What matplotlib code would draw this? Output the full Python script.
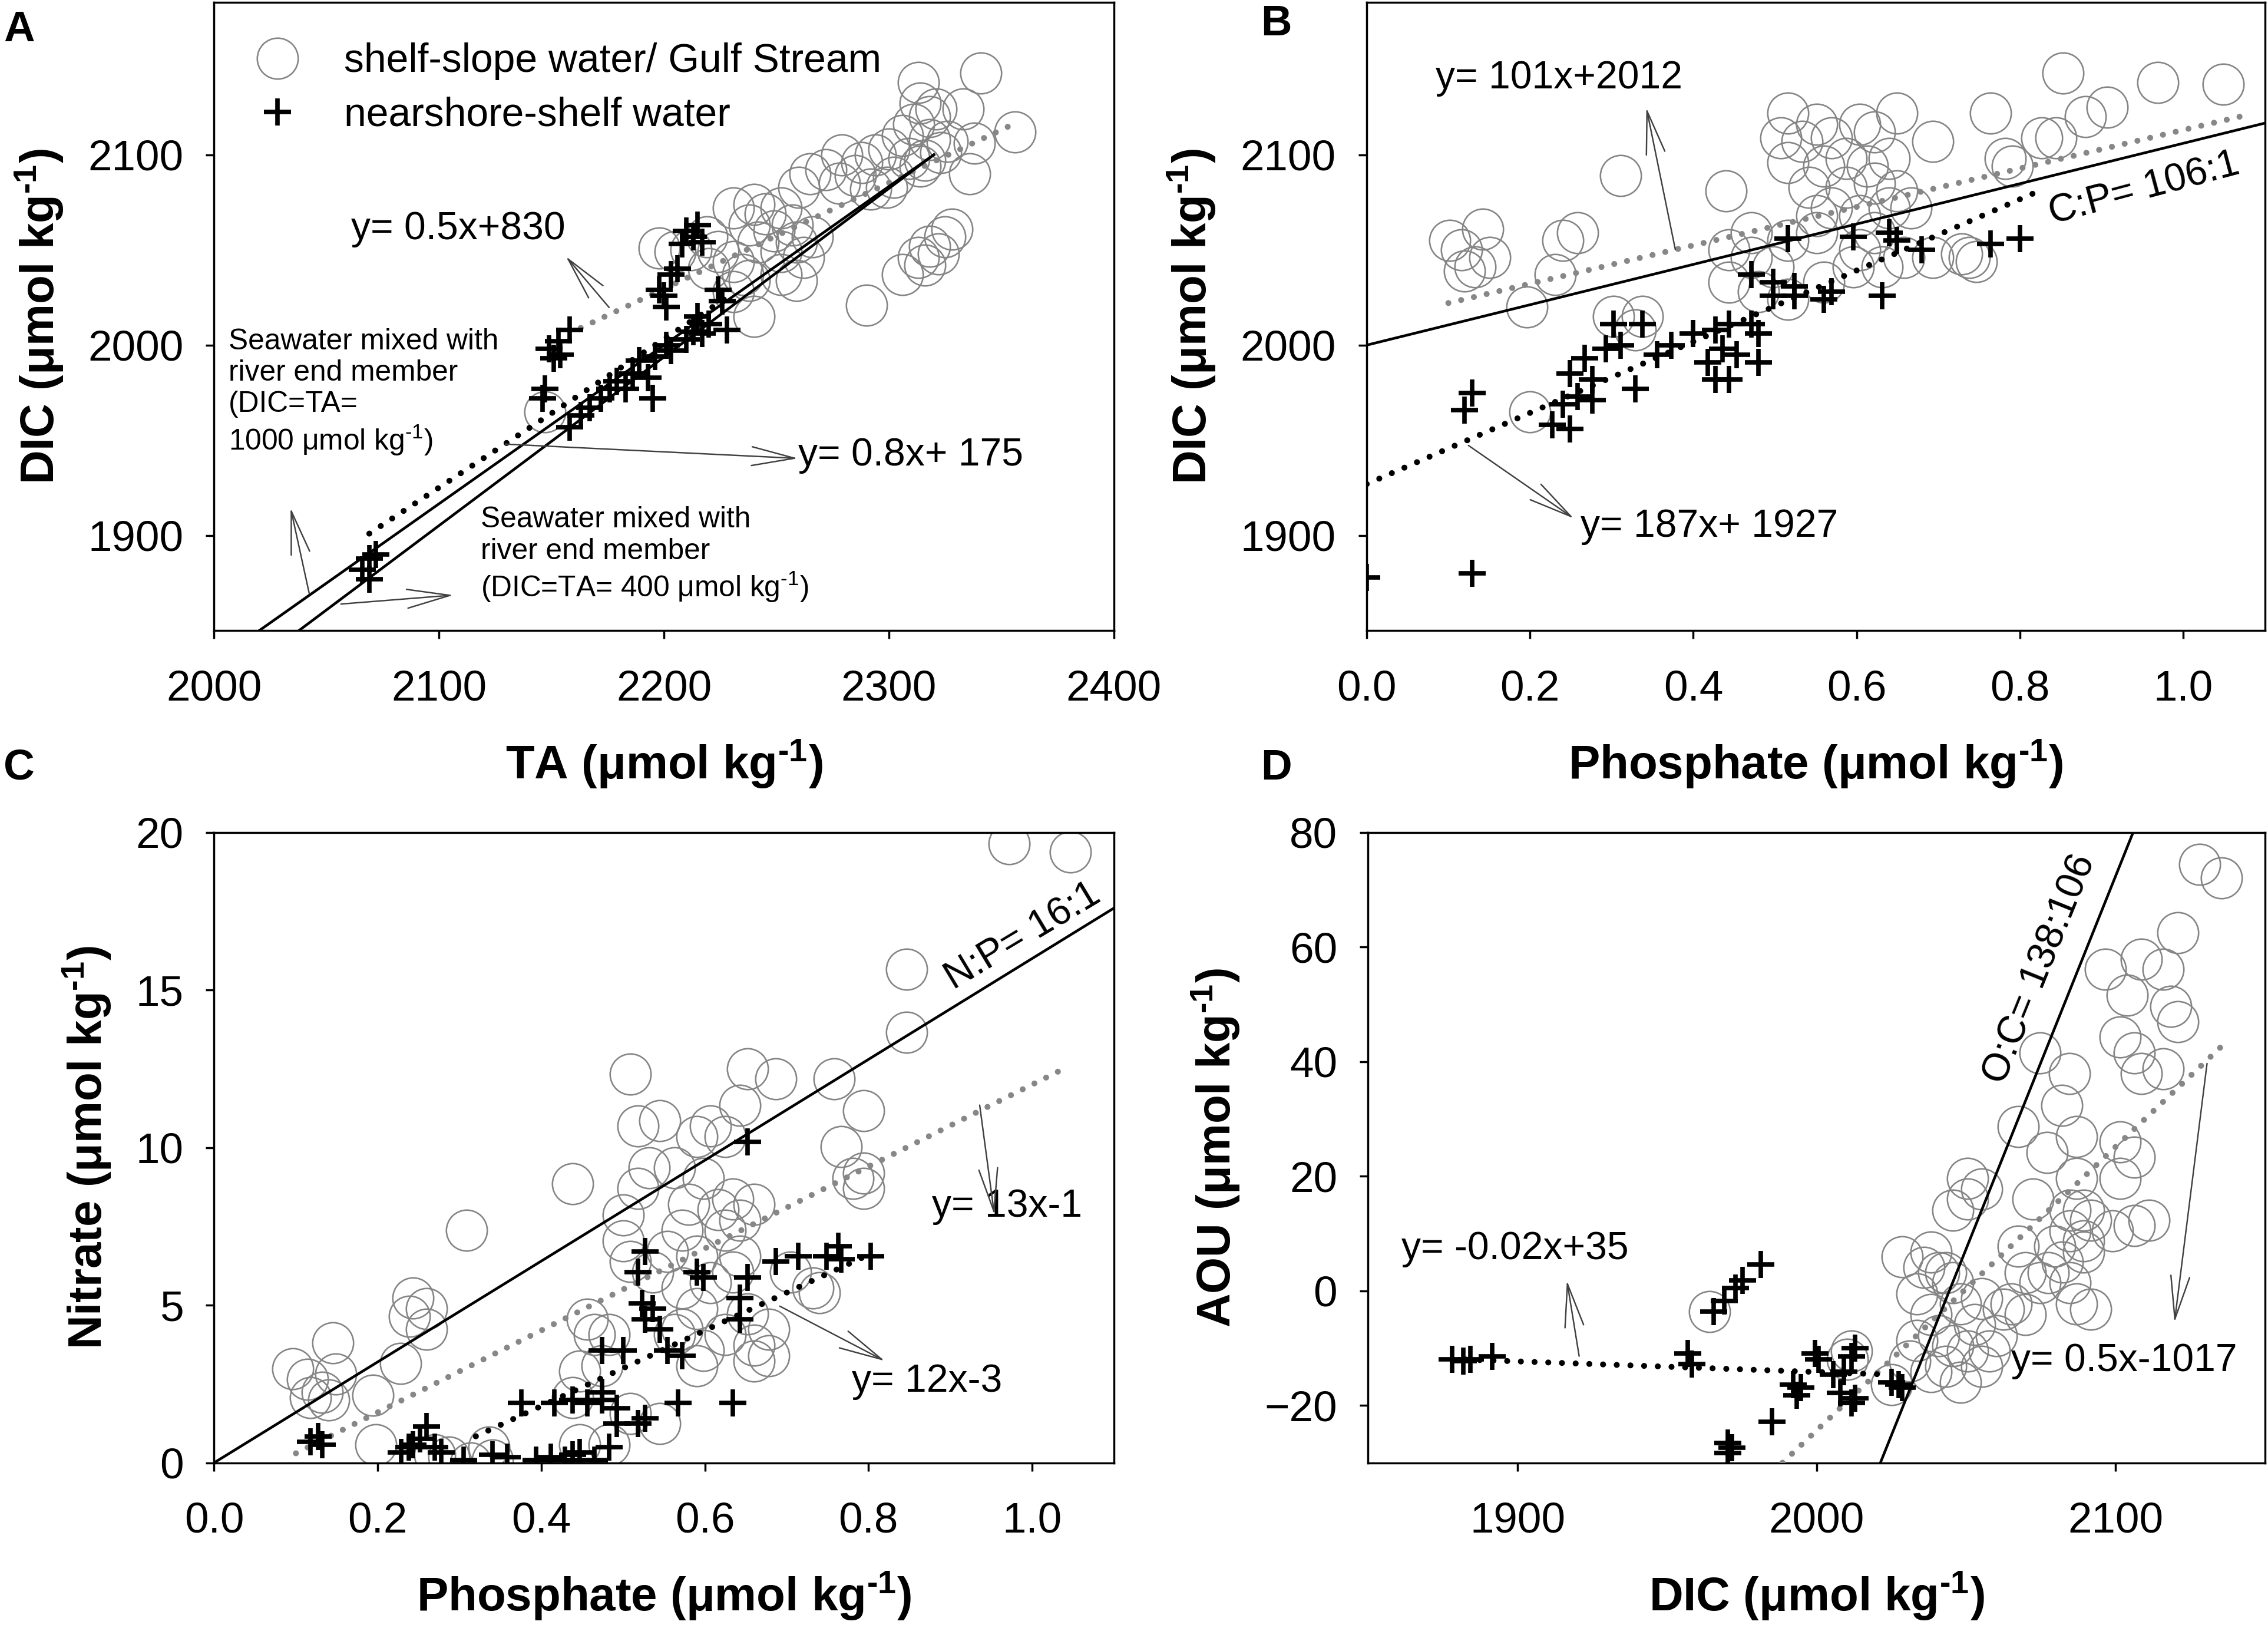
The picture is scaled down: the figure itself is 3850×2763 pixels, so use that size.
import matplotlib
matplotlib.use('Agg')
import numpy as np
import matplotlib.pyplot as plt
from matplotlib import font_manager
from matplotlib.ticker import FormatStrFormatter

avail = {f.name for f in font_manager.fontManager.ttflist}
FONT = 'Liberation Sans' if 'Liberation Sans' in avail else 'DejaVu Sans'
plt.rcParams['font.family'] = [FONT, 'DejaVu Sans']
plt.rcParams['mathtext.default'] = 'regular'

# ---------------- Panel A: DIC vs TA ----------------
a_shelf_ta = [2313, 2341, 2314, 2321, 2333, 2356, 2338, 2336, 2318, 2311, 2306, 2300, 2294, 2288,
              2309, 2316, 2323, 2326, 2318, 2314, 2302, 2279, 2272, 2265, 2260, 2278, 2285, 2292,
              2299, 2240, 2245, 2252, 2257, 2238, 2249, 2259, 2266, 2252, 2262, 2252, 2259, 2231,
              2242, 2198, 2205, 2212, 2219, 2224, 2231, 2220, 2235, 2231, 2240, 2238, 2147, 2290,
              2306, 2313, 2318, 2325, 2328, 2316, 2322]
a_shelf_dic = [2138, 2143, 2127, 2124, 2124, 2112, 2106, 2090, 2108, 2116, 2110, 2103, 2100, 2096,
               2098, 2097, 2101, 2107, 2120, 2094, 2088, 2100, 2092, 2090, 2083, 2085, 2089, 2082,
               2083, 2074, 2069, 2072, 2063, 2063, 2060, 2054, 2057, 2049, 2046, 2037, 2034, 2072,
               2054, 2051, 2049, 2050, 2057, 2049, 2044, 2040, 2037, 2028, 2015, 2034, 1965, 2021,
               2037, 2046, 2052, 2057, 2061, 2042, 2048]
a_near_ta = [2210, 2215, 2217, 2208, 2213, 2206, 2203, 2200, 2198, 2201, 2224, 2226, 2215, 2220,
             2228, 2213, 2210, 2217, 2203, 2196, 2201, 2189, 2186, 2193, 2179, 2183, 2176, 2195,
             2172, 2167, 2163, 2158, 2153, 2149, 2154, 2151, 2158, 2147, 2146, 2069, 2072, 2066, 2069]
a_near_dic = [2060, 2063, 2054, 2053, 2057, 2040, 2037, 2026, 2029, 2020, 2029, 2023, 2015, 2011,
              2008, 2007, 2003, 2006, 1997, 1994, 2000, 1992, 1985, 1983, 1981, 1977, 1977, 1972,
              1972, 1967, 1963, 1957, 2002, 1998, 1995, 1993, 2008, 1977, 1972, 1888, 1890, 1882, 1877]
# fitted lines (end points) and conservative mixing lines
a_fit_shelf_x = [2163, 2357]
a_fit_shelf_y = [2009, 2117]
a_fit_near_x = [2069, 2228]
a_fit_near_y = [1901, 2025]
seawater_end = (2320, 2100)
river_end_1000 = (1000, 1000)
river_end_400 = (400, 400)

# ---------------- Panel B: DIC vs phosphate ----------------
b_shelf_p = [.102, .116, .142, .133, .151, .12, .196, .231, .24, .258, .311, .44,
             .516, .551, .533, .569, .604, .649, .622, .587, .613, .64, .56, .542, .587, .622,
             .649, .693, .507, .516, .569, .551, .604, .64, .667, .471, .444, .471, .516, .551,
             .498, .444, .48, .516, .56, .596, .631, .658, .604, .693, .738, .622,
             .764, .844, .88, .907, .853, .969, 1.049, .791, .782, .827, .729, .747,
             .302, .338, .2, .329]
b_shelf_dic = [2055, 2050, 2061, 2041, 2046, 2039, 2020, 2037, 2055, 2059, 2089, 2081,
               2122, 2116, 2107, 2109, 2116, 2122, 2112, 2098, 2094, 2098, 2094, 2083, 2083, 2085,
               2081, 2107, 2109, 2096, 2072, 2068, 2068, 2072, 2072, 2059, 2050, 2046, 2055, 2059,
               2041, 2033, 2028, 2024, 2033, 2041, 2041, 2046, 2050, 2046, 2046, 2059,
               2122, 2109, 2120, 2125, 2143, 2138, 2137, 2094, 2098, 2109, 2048, 2044,
               2015, 2015, 1965, 2008]
b_near_p = [0, .129, .129, .12, .227, .249, .24, .258, .276, .249, .276, .267, .293, .311, .302,
            .338, .329, .356, .373, .4, .427, .418, .427, .444, .436, .453, .444, .471, .48, .48,
            .471, .498, .498, .524, .524, .56, .569, .516, .596, .64, .649, .631, .68, .764, .8]
b_near_dic = [1878, 1880, 1975, 1966, 1958, 1956, 1969, 1973, 1971, 1985, 1982, 1993, 1998, 2000,
              2011, 2011, 1977, 1995, 2000, 2006, 2008, 1991, 1982, 1982, 1998, 1995, 2011, 2011,
              1991, 2006, 2037, 2033, 2026, 2031, 2026, 2024, 2028, 2056, 2057, 2059, 2055, 2026,
              2050, 2053, 2056]
b_fit_shelf = (101, 2012, 0.10, 1.075)   # slope, intercept, x from, x to
b_fit_near = (187, 1927, 0.0, 0.82)
b_redfield = (106, 2000, 0.0, 1.1)

# ---------------- Panel C: nitrate vs phosphate ----------------
c_shelf_p = [.096, .114, .132, .118, .145, .149, .14, .194, .198, .228, .243, .239, .26, .26,
             .309, .438, .287, .314, .34, .336, .27, .438, .447, .465, .483, .456, .474, .447,
             .483, .545, .509, .509, .518, .545, .532, .5, .518, .563, .59, .607, .625, .598,
             .58, .572, .554, .536, .509, .5, .616, .634, .643, .625, .66, .652, .687, .643,
             .643, .59, .572, .59, .572, .598, .625, .652, .66, .678, .66, .678, .607, .634,
             .563, .59, .758, .794, .767, .794, .794, .781, .847, .847, .972, 1.047, .732, .74, .705]
c_shelf_n = [2.98, 2.65, 2.24, 2.07, 3.81, 2.82, 1.99, 2.15, .58, 3.15, 5.22, 4.64, 4.89, 4.23,
             7.37, 8.86, .17, 0, .08, .5, .25, 2.07, 2.9, 4.06, 4.06, 4.56, 3.07, .58,
             .58, 1.24, 1.57, 12.34, 10.69, 10.85, 9.36, 7.87, 8.7, 9.36, 10.36, 10.69, 10.36, 9.03,
             8.2, 7.37, 6.71, 6.05, 6.38, 7.04, 8.04, 8.37, 7.7, 7.37, 8.2, 12.51, 12.18, 11.35,
             6.55, 6.55, 5.55, 4.89, 4.23, 3.56, 4.06, 4.72, 3.73, 4.23, 3.23, 3.4, 5.72, 6.05,
             4.06, 3.07, 12.18, 11.18, 10.03, 9.2, 8.7, 9.03, 15.66, 13.67, 19.64, 19.39, 5.55, 5.39, 6.05]
c_near_p = [.118, .132, .127, .229, .243, .252, .26, .27, .278, .238, .305, .358, .34,
            .394, .412, .429, .438, .447, .465, .483, .376, .416, .438, .456, .474, .492, .474,
            .492, .518, .527, .474, .5, .567, .634, .518, .523, .527, .536, .545, .527, .554,
            .572, .598, .59, .643, .643, .652, .652, .687, .714, .749, .763, .767, .803]
c_near_n = [.66, .58, .83, .33, .58, .75, 1.16, .5, .33, .5, .08, .17, .25,
            .08, .17, .08, .25, .33, .08, .5, 1.9, 1.9, 1.99, 1.9, 1.99, 1.74, 2.24,
            1.24, 1.24, 1.41, 3.56, 3.56, 1.9, 1.9, 6.05, 5.05, 4.56, 4.89, 4.23, 6.71, 3.56,
            3.4, 5.88, 6.05, 5.22, 4.56, 5.88, 10.19, 6.38, 6.55, 6.55, 6.88, 6.46, 6.55]
c_fit_shelf = (13, -1, 0.10, 1.045)
c_fit_near = (12, -3, 0.32, 0.80)
c_redfield = (16, 0, 0.0, 1.1)

# ---------------- Panel D: AOU vs DIC ----------------
d_shelf_dic = [1964.3, 2010.4, 2011.7, 2025, 2028.6, 2035.9, 2038.3, 2043.2, 2033.5, 2038.3, 2040.8,
               2033.5, 2031.1, 2045.6, 2043.2, 2050.5, 2052.9, 2048.1, 2055.3, 2048.1, 2038.3, 2057.8,
               2060.2, 2062.6, 2055.3, 2045.6, 2040.8, 2050.5, 2045.6, 2055.3, 2050.5, 2067.5, 2069.9,
               2074.8, 2065.1, 2069.9, 2077.2, 2067.5, 2074.8, 2084.5, 2082, 2086.9, 2072.3,
               2096.6, 2103.9, 2108.7, 2120.9, 2116, 2118.4, 2120.9, 2101.5, 2106.3, 2108.7, 2116,
               2128.2, 2135.4, 2101.5, 2106.3, 2087, 2089.3, 2091.7, 2101.5, 2084.7, 2082.3, 2077.4,
               2084.7, 2089.3, 2079.6, 2111.2, 2087, 2091.7, 2089.3, 2084.7, 2106.3, 2099]
d_shelf_aou = [-3.6, -11.9, -10.5, -16.4, 5.9, 4.1, 6.8, 3.2, -0.5, -4.1, -7.8,
               -8.7, -12.3, -9.6, -13.2, -10.5, -5.9, -2.3, -13.2, -16, -14.1, -10.5,
               -7.8, -3.2, -1.4, 1.4, 3.2, 16, 14.1, 17.8, 19.6, 7.8, 3.2,
               1.4, -2.3, -4.1, 24.2, 28.7, 41.5, 37.9, 32.4, 26.9, 16,
               56.1, 51.6, 57.9, 62.5, 56.1, 49.7, 47, 44.3, 41.5, 37.9, 38.8,
               74.4, 72.1, 26, 23.3, 19.6, 14.1, 12.3, 19.6, 10.5, 5, 3.2,
               1.4, 8.7, 7.8, 12.3, -2.3, -3.2, 6.8, 14.1, 11.4, 10.5]
d_near_dic = [1878.2, 1881.8, 1884.2, 1891.5, 1957, 1958.3, 1965.5, 1969.2, 1972.8, 1975.2, 1981.3,
              1970.4, 1971.6, 1970.4, 1985, 1992.2, 1993.4, 1994.7, 1999.5, 2000.7, 2005.6, 2008,
              2009.2, 2011.7, 2012.9, 2012.9, 2011.7, 2025, 2027.4, 2028.6]
d_near_aou = [-11.9, -12.3, -11.9, -11.4, -10.9, -12.8, -3.6, -1.8, 0.5, 1.8, 4.6,
              -26.5, -27.4, -28.3, -22.8, -16.4, -18.2, -16.9, -10.9, -11.9, -14.6, -17.8,
              -14.1, -11.4, -10, -18.7, -19.6, -16, -16.4, -16.9]
d_fit_shelf_x = [1988.6, 2136.7]
d_fit_shelf_y = [-30, 43.3]
d_fit_near_x = [1878.2, 2023.8]
d_fit_near_y = [-11.9, -14.6]
d_oc_ratio = 138 / 106
d_oc_dic0 = 2044.4          # DIC where the O:C line crosses AOU = 0
d_oc_range = (2000, 2120)

# ---------------- styling ----------------
CIRC = dict(ls='none', marker='o', ms=20, mfc='none', mec='#858585', mew=0.75, zorder=2)
PLUS = dict(ls='none', marker='+', ms=13, mec='black', mew=2.2, zorder=4)
GDOT = dict(color='#878787', lw=2.9, ls=(0, (0.01, 2.2)), dash_capstyle='round', zorder=3)
KDOT = dict(color='black', lw=2.9, ls=(0, (0.01, 2.3)), dash_capstyle='round', zorder=3)
SOLID = dict(color='black', lw=1.3, zorder=3)
TXT = 19
LAB = 23


def style(ax, xlim, ylim, xticks, yticks, xlabel, ylabel):
    ax.set_xlim(xlim)
    ax.set_ylim(ylim)
    ax.set_xticks(xticks)
    ax.set_yticks(yticks)
    ax.tick_params(direction='out', length=4, width=1.0, labelsize=21, top=False, right=False)
    ax.tick_params(axis='x', pad=15)
    ax.tick_params(axis='y', pad=11)
    for s in ax.spines.values():
        s.set_linewidth(1.0)
    ax.set_xlabel(xlabel, fontsize=LAB, fontweight='bold', labelpad=14)
    ax.set_ylabel(ylabel, fontsize=LAB, fontweight='bold', labelpad=11)


def arrow(ax, tail, tip):
    ax.annotate('', xy=tip, xytext=tail, zorder=5,
                arrowprops=dict(arrowstyle='->,head_length=1.05,head_width=0.23',
                                mutation_scale=20, color='#404040', lw=0.7,
                                shrinkA=0, shrinkB=0))


def fit_line(ax, fit, **kw):
    slope, icpt, x0, x1 = fit
    xs = np.array([x0, x1])
    ax.plot(xs, slope * xs + icpt, **kw)


unit = ' (μmol kg$^{\u20101}$)'

fig = plt.figure(figsize=(15.4, 11.052), dpi=250)
axA = fig.add_axes([0.0944, 0.6126, 0.3967, 0.3859])
axB = fig.add_axes([0.6026, 0.6126, 0.3960, 0.3859])
axC = fig.add_axes([0.0944, 0.1015, 0.3967, 0.3871])
axD = fig.add_axes([0.6032, 0.1015, 0.3955, 0.3871])

# ---- A ----
ax = axA
ax.plot(a_shelf_ta, a_shelf_dic, label='shelf-slope water/ Gulf Stream', **CIRC)
ax.plot(a_near_ta, a_near_dic, label='nearshore-shelf water', **PLUS)
ax.plot(a_fit_shelf_x, a_fit_shelf_y, **GDOT)
ax.plot(a_fit_near_x, a_fit_near_y, **KDOT)
for rv in (river_end_1000, river_end_400):
    ax.plot([rv[0], seawater_end[0]], [rv[1], seawater_end[1]], **SOLID)
style(ax, (2000, 2400), (1850, 2180), [2000, 2100, 2200, 2300, 2400], [1900, 2000, 2100],
      'TA' + unit, 'DIC' + unit)
ax.legend(loc='upper left', bbox_to_anchor=(0.048, 0.936), frameon=False, fontsize=19.5,
          handlelength=1.0, handletextpad=1.17, labelspacing=0.4, borderpad=0, borderaxespad=0)
ax.text(2060.9, 2061, 'y= 0.5x+830', fontsize=TXT, ha='left', va='center')
ax.text(2259.6, 1942, 'y= 0.8x+ 175', fontsize=TXT, ha='left', va='center')
ax.text(2006.4, 2009, 'Seawater mixed with\nriver end member\n(DIC=TA=\n1000 μmol kg$^{\u20101}$)',
        fontsize=14.3, ha='left', va='top', linespacing=1.2)
ax.text(2118.6, 1915.3, 'Seawater mixed with\nriver end member\n(DIC=TA= 400 μmol kg$^{\u20101}$)',
        fontsize=14.3, ha='left', va='top', linespacing=1.2)
arrow(ax, (2175.6, 2019.8), (2156.4, 2046.6))
arrow(ax, (2129.5, 1948), (2259.6, 1940.5))
arrow(ax, (2042.3, 1869.5), (2034, 1914.5))
arrow(ax, (2056.4, 1864), (2106.4, 1868.7))

# ---- B ----
ax = axB
ax.plot(b_shelf_p, b_shelf_dic, **CIRC)
ax.plot(b_near_p, b_near_dic, **PLUS)
fit_line(ax, b_fit_shelf, **GDOT)
fit_line(ax, b_fit_near, **KDOT)
fit_line(ax, b_redfield, **SOLID)
style(ax, (0, 1.1), (1850, 2180), [0, .2, .4, .6, .8, 1.0], [1900, 2000, 2100],
      'Phosphate' + unit, 'DIC' + unit)
ax.xaxis.set_major_formatter(FormatStrFormatter('%.1f'))
ax.text(0.0846, 2140, 'y= 101x+2012', fontsize=TXT, ha='left', va='center')
ax.text(0.262, 1904.6, 'y= 187x+ 1927', fontsize=TXT, ha='left', va='center')
ax.text(0.952, 2082, 'C:P= 106:1', fontsize=TXT, ha='center', va='center', rotation=15)
arrow(ax, (0.378, 2050.2), (0.3425, 2124.7))
arrow(ax, (0.1246, 1947.3), (0.2535, 1909))

# ---- C ----
ax = axC
ax.plot(c_shelf_p, c_shelf_n, **CIRC)
ax.plot(c_near_p, c_near_n, **PLUS)
fit_line(ax, c_fit_shelf, **GDOT)
fit_line(ax, c_fit_near, **KDOT)
fit_line(ax, c_redfield, **SOLID)
style(ax, (0, 1.1), (0, 20), [0, .2, .4, .6, .8, 1.0], [0, 5, 10, 15, 20],
      'Phosphate' + unit, 'Nitrate' + unit)
ax.xaxis.set_major_formatter(FormatStrFormatter('%.1f'))
ax.text(0.878, 8.12, 'y= 13x-1', fontsize=TXT, ha='left', va='center')
ax.text(0.78, 2.57, 'y= 12x-3', fontsize=TXT, ha='left', va='center')
ax.text(0.989, 16.7, 'N:P= 16:1', fontsize=TXT, ha='center', va='center', rotation=31)
arrow(ax, (0.936, 11.35), (0.954, 7.87))
arrow(ax, (0.6916, 4.97), (0.82, 3.23))

# ---- D ----
ax = axD
ax.plot(d_shelf_dic, d_shelf_aou, **CIRC)
ax.plot(d_near_dic, d_near_aou, **PLUS)
ax.plot(d_fit_shelf_x, d_fit_shelf_y, **GDOT)
ax.plot(d_fit_near_x, d_fit_near_y, **KDOT)
oc_x = np.array(d_oc_range)
ax.plot(oc_x, d_oc_ratio * (oc_x - d_oc_dic0), **SOLID)
style(ax, (1850, 2150), (-30, 80), [1900, 2000, 2100], [-20, 0, 20, 40, 60, 80],
      'DIC' + unit, 'AOU' + unit)
ax.text(1861.2, 7.3, 'y= -0.02x+35', fontsize=TXT, ha='left', va='center')
ax.text(2065, -12.3, 'y= 0.5x-1017', fontsize=TXT, ha='left', va='center')
ax.text(2074.8, 56.1, 'O:C= 138:106', fontsize=TXT, ha='center', va='center', rotation=68)
arrow(ax, (1920.6, -11.4), (1916.5, 1.8))
arrow(ax, (2130.6, 39.7), (2119.7, -5.5))

# panel letters
for letter, x, y in [('A', 0.0016, 0.994), ('B', 0.556, 0.9975),
                     ('C', 0.0016, 0.5404), ('D', 0.556, 0.5404)]:
    fig.text(x, y, letter, fontsize=21, fontweight='bold', ha='left', va='top')

fig.savefig('out.png', dpi=250)
